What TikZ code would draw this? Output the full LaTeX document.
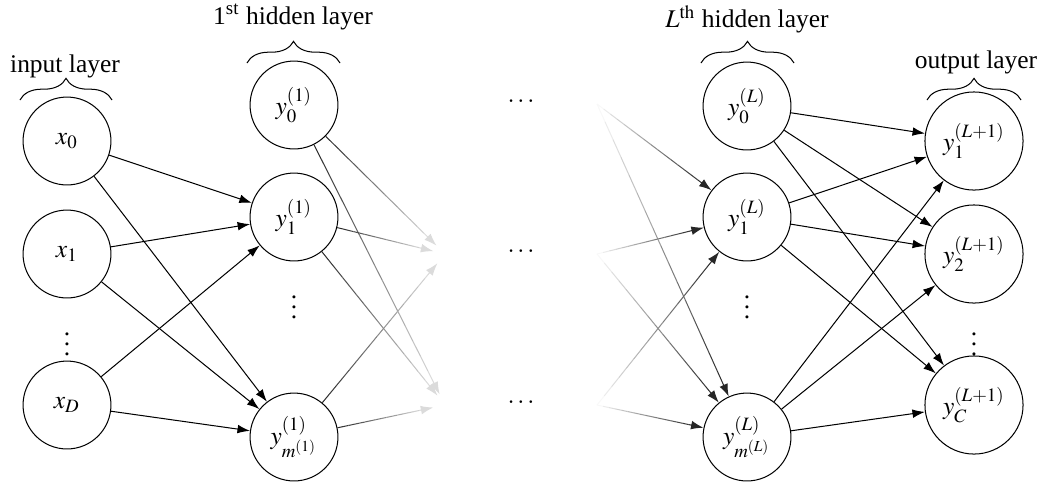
\documentclass[tikz,border=0pt]{standalone}
\usepackage{mathptmx}
\usepackage{fontspec}
\setmainfont{Liberation Serif}
\usetikzlibrary{calc,arrows.meta,decorations.pathreplacing}

\tikzset{
  neuron/.style={draw,circle,minimum size=34.5pt,inner sep=0pt,line width=0.4pt},
  outneuron/.style={neuron,minimum size=38.5pt},
  conn/.style={-{Latex[length=4.9pt,width=3.4pt]},line width=0.4pt},
  layerbrace/.style={decorate,decoration={brace,amplitude=8.5pt},line width=0.4pt},
  layerlabel/.style={inner sep=0pt},
  dotsnode/.style={inner sep=0pt}
}

\newcommand\fadeoutedge[2]{%
  \path (#1) -- (#2) coordinate[pos=0] (fs) coordinate[pos=1] (ft);
  \coordinate (fe) at ($(ft)!4.7pt!(fs)$);
  \coordinate (fl) at ($(fe)!3.5pt!(fs)$);
  \foreach \i in {1,...,16}{%
    \pgfmathsetmacro\ta{(\i-1)/16}%
    \pgfmathsetmacro\tb{\i/16}%
    \pgfmathsetmacro\cc{85+(12-85)*(\i-0.5)/16}%
    \draw[black!\cc,line width=0.4pt] ($(fs)!\ta!(fl)$) -- ($(fs)!\tb!(fl)$);
  }
  \draw[conn,black!14] ($(fe)!5pt!(fs)$) -- (fe);
}

\newcommand\fadeinedge[2]{%
  \path (#1) -- (#2) coordinate[pos=0] (fs) coordinate[pos=1] (fe);
  \coordinate (fl) at ($(fe)!3.5pt!(fs)$);
  \foreach \i in {1,...,16}{%
    \pgfmathsetmacro\ta{(\i-1)/16}%
    \pgfmathsetmacro\tb{\i/16}%
    \pgfmathsetmacro\cc{0+(85-0)*(\i-0.5)/16}%
    \draw[black!\cc,line width=0.4pt] ($(fs)!\ta!(fl)$) -- ($(fs)!\tb!(fl)$);
  }
  \draw[conn,black!85] ($(fe)!5pt!(fs)$) -- (fe);
}

\begin{document}
\begin{tikzpicture}[x=0.3925pt,y=0.3925pt]
\useasboundingbox (0,0) rectangle (1043,-490);

% input layer
\node[neuron] (x0) at (67,-141) {$x_0$};
\node[neuron] (x1) at (67,-254) {$x_1$};
\node[dotsnode] (xd) at (67,-337) {$\vdots$};
\node[neuron] (xD) at (67,-405) {$x_D$};

% first hidden layer
\node[neuron] (h0) at (294,-105) {$y_0^{(1)}$};
\node[neuron] (h1) at (294,-217) {$y_1^{(1)}$};
\node[dotsnode] (hd) at (294,-300) {$\vdots$};
\node[neuron] (hm) at (294,-437) {$y_{m^{(1)}}^{(1)}$};

% middle dots
\node[dotsnode] (c0) at (521,-102) {$\cdots$};
\node[dotsnode] (c1) at (521,-252) {$\cdots$};
\node[dotsnode] (c2) at (521,-403) {$\cdots$};
\coordinate (t1) at (445,-254);
\coordinate (t2) at (445,-405);
\coordinate (s0) at (597,-104);
\coordinate (s1) at (597,-254);
\coordinate (s2) at (597,-405);

% L-th hidden layer
\node[neuron] (g0) at (747,-106) {$y_0^{(L)}$};
\node[neuron] (g1) at (747,-217) {$y_1^{(L)}$};
\node[dotsnode] (gd) at (747,-300) {$\vdots$};
\node[neuron] (gm) at (747,-437) {$y_{m^{(L)}}^{(L)}$};

% output layer
\node[outneuron] (o1) at (974,-141) {$y_1^{(L+1)}$};
\node[outneuron] (o2) at (974,-254) {$y_2^{(L+1)}$};
\node[dotsnode] (od) at (974,-337) {$\vdots$};
\node[outneuron] (oC) at (974,-405) {$y_C^{(L+1)}$};

% labels and braces
\node[layerlabel] (lin) at (65,-66) {input layer};
\draw[layerbrace] (20,-100) -- (112,-100);
\node[layerlabel] (lh1) at (293,-17) {1\textsuperscript{st} hidden layer};
\draw[layerbrace] (247,-63) -- (340,-63);
\node[layerlabel] (lhL) at (747,-19) {$L^{\mathrm{th}}$ hidden layer};
\draw[layerbrace] (701,-63) -- (794,-63);
\node[layerlabel] (lout) at (976,-62) {output layer};
\draw[layerbrace] (927,-100) -- (1021,-100);

% input -> hidden 1
\foreach \s in {x0,x1,xD}{
  \draw[conn] (\s) -- (h1);
  \draw[conn] (\s) -- (hm);
}

% hidden 1 -> (fading)
\foreach \s in {h0,h1,hm}{
  \fadeoutedge{\s}{t1}
  \fadeoutedge{\s}{t2}
}

% (fading) -> hidden L
\foreach \s in {s0,s1,s2}{
  \fadeinedge{\s}{g1}
  \fadeinedge{\s}{gm}
}

% hidden L -> output
\foreach \s in {g0,g1,gm}{
  \draw[conn] (\s) -- (o1);
  \draw[conn] (\s) -- (o2);
  \draw[conn] (\s) -- (oC);
}
\end{tikzpicture}
\end{document}
